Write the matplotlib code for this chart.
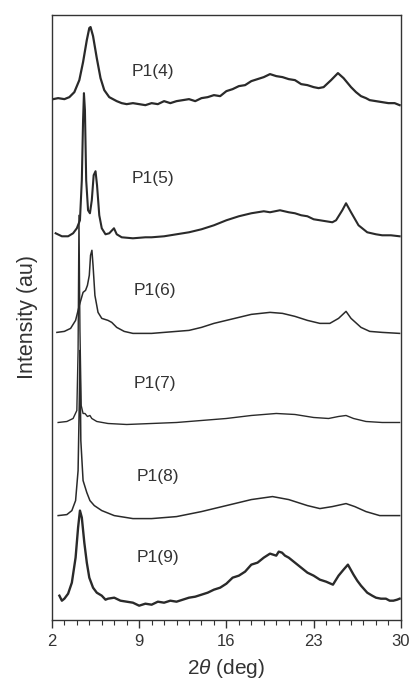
import numpy as np
import matplotlib
matplotlib.use("Agg")
import matplotlib.pyplot as plt
from matplotlib.ticker import MultipleLocator

plt.rcParams['font.family'] = ['Liberation Sans', 'DejaVu Sans']
plt.rcParams['mathtext.fontset'] = 'custom'
plt.rcParams['mathtext.it'] = 'Liberation Sans:italic'
plt.rcParams['mathtext.rm'] = 'Liberation Sans'

# ---------------------data (2theta in deg, intensity in arbitrary units)-----------------------
labels = ["P1(4)", "P1(5)", "P1(6)", "P1(7)", "P1(8)", "P1(9)"]
offsets = [519, 386, 287, 197, 104, 17]

tt_4 = [2.1, 2.5, 3.0, 3.4, 3.8, 4.2, 4.5, 4.8, 5.0, 5.1, 5.3, 5.6, 5.9, 6.2, 6.6, 7.2, 7.6, 8.0, 8.5,
        9.0, 9.5, 10.0, 10.5, 11.0, 11.5, 12.0, 12.5, 13.0, 13.5, 14.0, 14.5, 15.0, 15.5, 16.0, 16.5,
        17.0, 17.5, 18.0, 18.5, 19.0, 19.5, 20.0, 20.5, 21.0, 21.5, 22.0, 22.5, 23.0, 23.4, 23.8, 24.4,
        24.95, 25.4, 26.0, 26.4, 26.8, 27.2, 27.5, 28.0, 28.5, 29.0, 29.5, 29.9]
int_4 = [1, 2, 1, 3, 8, 20, 38, 60, 72, 73, 64, 42, 22, 10, 3, -1, -3, -4, -3,
         -4, -5, -3, -4, -1, -3, -1, 0, 1, -1, 2, 3, 5, 4, 9, 11,
         14, 15, 19, 21, 23, 26, 24, 23, 21, 20, 16, 15, 13, 12, 13, 20,
         27, 22, 13, 8, 4, 2, 0, -1, -2, -3, -3, -5]

tt_5 = [2.3, 2.8, 3.3, 3.7, 4.0, 4.25, 4.4, 4.5, 4.57, 4.65, 4.75, 4.9, 5.05, 5.2, 5.35, 5.5, 5.62,
        5.8, 6.0, 6.3, 6.6, 6.98, 7.2, 7.6, 8.5, 9.5, 10.0, 11.0, 12.0, 13.0, 14.0, 15.0, 16.0, 17.0,
        18.0, 18.5, 19.0, 19.5, 20.3, 21.0, 21.5, 22.0, 22.5, 23.0, 23.5, 24.0, 24.5, 24.8, 25.3, 25.6,
        26.0, 26.6, 27.3, 28.0, 28.5, 29.2, 29.9]
int_5 = [0, -3, -3, 0, 5, 13, 53, 113, 140, 123, 53, 23, 20, 33, 58, 62, 48,
         18, 5, -1, 0, 5, -1, -4, -5, -4, -4, -3, -1, 1, 4, 8, 13, 17,
         20, 21, 22, 21, 23, 21, 20, 18, 17, 14, 13, 12, 11, 13, 23, 30,
         21, 8, 1, -1, -2, -2, -3]

tt_6 = [2.4, 3.0, 3.5, 3.9, 4.2, 4.5, 4.7, 4.85, 5.0, 5.1, 5.21, 5.3, 5.45, 5.7, 6.0, 6.5, 6.8, 7.2,
        7.8, 8.5, 10.0, 11.0, 12.0, 13.0, 14.0, 15.0, 16.0, 17.0, 18.0, 19.5, 20.5, 21.5, 22.5, 23.5,
        24.3, 25.0, 25.6, 26.0, 26.8, 27.5, 28.5, 29.9]
int_6 = [0, 1, 4, 12, 27, 40, 42, 47, 57, 77, 82, 67, 37, 20, 14, 12, 10, 5,
         1, -1, -1, 0, 1, 2, 5, 9, 12, 15, 18, 20, 19, 16, 12, 9,
         9, 14, 21, 14, 5, 1, 0, -1]

tt_7 = [2.5, 3.2, 3.7, 4.0, 4.1, 4.17, 4.25, 4.35, 4.5, 4.65, 4.85, 5.05, 5.2, 5.6, 6.5, 8.0, 10.0,
        12.0, 14.0, 16.0, 18.0, 20.0, 21.5, 23.0, 24.2, 25.0, 25.6, 26.2, 27.2, 28.5, 29.9]
int_7 = [0, 1, 4, 12, 72, 207, 92, 17, 9, 9, 6, 7, 4, 1, -1, -2, -1,
         0, 2, 4, 7, 9, 8, 5, 4, 6, 7, 4, 1, 0, 0]

tt_8 = [2.5, 3.2, 3.6, 3.9, 4.1, 4.2, 4.25, 4.32, 4.5, 4.8, 5.05, 5.4, 6.0, 7.0, 8.5, 10.0, 12.0,
        14.0, 16.0, 18.0, 19.7, 21.0, 22.5, 23.5, 24.5, 25.6, 26.3, 27.2, 28.3, 29.9]
int_8 = [0, 1, 5, 15, 45, 115, 165, 75, 35, 23, 15, 10, 5, 0, -3, -3, -1,
         4, 10, 16, 19, 16, 10, 7, 9, 12, 9, 4, 0, 0]

tt_9 = [2.6, 2.8, 3.0, 3.3, 3.6, 3.9, 4.1, 4.25, 4.4, 4.6, 4.8, 5.0, 5.3, 5.6, 6.0, 6.3, 6.5, 7.0,
        7.5, 8.0, 8.5, 9.0, 9.5, 10.0, 10.5, 11.0, 11.5, 12.0, 12.5, 13.0, 13.5, 14.0, 14.5, 15.0,
        15.5, 16.0, 16.5, 17.0, 17.5, 18.0, 18.5, 19.0, 19.5, 20.0, 20.2, 20.46, 20.7, 21.0, 21.5,
        22.0, 22.5, 23.0, 23.5, 24.0, 24.55, 25.0, 25.4, 25.75, 26.2, 26.5, 26.8, 27.3, 27.7, 28.0,
        28.4, 28.8, 29.1, 29.4, 29.7, 29.9]
int_9 = [7, 2, 4, 9, 20, 45, 75, 92, 85, 60, 40, 25, 15, 10, 7, 3, 4, 5,
         2, 1, 0, -3, -1, -2, 1, 0, 2, 1, 3, 5, 6, 8, 10, 13,
         15, 19, 25, 27, 31, 38, 40, 45, 49, 47, 51, 50, 47, 45, 40,
         35, 30, 27, 23, 21, 18, 27, 33, 38, 28, 22, 17, 10, 7, 5,
         4, 4, 2, 2, 3, 4]

xs = [tt_4, tt_5, tt_6, tt_7, tt_8, tt_9]
ys = [int_4, int_5, int_6, int_7, int_8, int_9]
line_w = [1.6, 1.5, 1.1, 1.0, 1.1, 1.7]

x_ticks = [2, 9, 16, 23, 30]

# label positions (2theta, height above trace baseline)
label_x = [10.1, 10.1, 10.3, 10.3, 10.5, 10.5]
label_y = [29, 55, 42, 39, 39, 45]

fig = plt.figure(figsize=(4.12, 6.84), dpi=100)
ax = fig.add_axes([0.126, 0.094, 0.847, 0.884])

for i in range(len(labels)):
    yy = np.array(ys[i]) + offsets[i]
    ax.plot(xs[i], yy, color='#2a2a2a', linewidth=line_w[i])
    ax.text(label_x[i], offsets[i] + label_y[i], labels[i], fontsize=12.5, color='#333333',
            ha='center', va='center')

ax.set_xlim(2, 30)
ax.set_ylim(0, 604)
ax.set_xticks(x_ticks)
ax.xaxis.set_minor_locator(MultipleLocator(1))
ax.set_yticks([])
ax.tick_params(axis='x', which='major', direction='out', length=6, width=1, labelsize=12,
               colors='#333333', pad=4)
ax.tick_params(axis='x', which='minor', direction='out', length=3.5, width=0.8, colors='#333333')
for sp in ax.spines.values():
    sp.set_color('#333333')
    sp.set_linewidth(1.0)

ax.set_xlabel(r"2$\mathit{\theta}$ (deg)", fontsize=15, color='#333333', labelpad=6)
ax.set_ylabel("Intensity (au)", fontsize=15.5, color='#333333', labelpad=10)

plt.savefig("out.png", dpi=100)
